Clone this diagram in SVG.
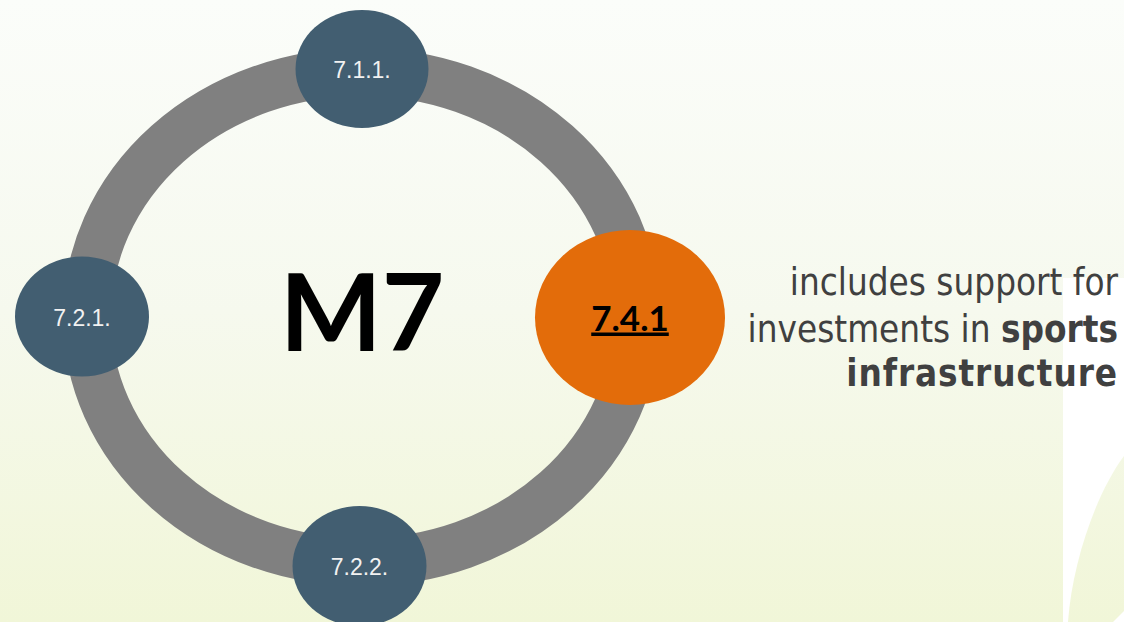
<svg xmlns="http://www.w3.org/2000/svg" width="1124" height="622" viewBox="0 0 1124 622">
  <defs>
    <linearGradient id="bg" gradientUnits="userSpaceOnUse" x1="0" y1="0" x2="0" y2="622">
      <stop offset="0" stop-color="#fbfdfa"/>
      <stop offset="0.5" stop-color="#f6f9ee"/>
      <stop offset="1" stop-color="#f1f6d8"/>
    </linearGradient>
    <style>
      .ring { fill: none; stroke: #808080; stroke-width: 48; }
      .node { fill: #425e71; }
      .hot { fill: #e36c0a; }
      .lbl { font-family: "Liberation Sans", Arial, sans-serif; font-size: 23px; fill: #f2f2f2; text-anchor: middle; }
      .big { font-family: Lato, "Open Sans", sans-serif; font-weight: bold; fill: #000; text-anchor: middle; }
      .desc { font-family: "DejaVu Sans Condensed", "DejaVu Sans", sans-serif; font-stretch: condensed; font-size: 36.5px; fill: #404040; text-anchor: end; }
      .b { font-weight: bold; }
      .wide { letter-spacing: 0.9px; }
    </style>
  </defs>
  <rect x="0" y="0" width="1124" height="622" fill="url(#bg)"/>
  <rect x="1063" y="278" width="61" height="344" fill="#ffffff"/>
  <path d="M1124,456 C1095,495 1072,565 1068,622 L1113,622 L1124,611 Z" fill="url(#bg)"/>

  <g id="connectors">
    <ellipse class="ring" cx="362" cy="317" rx="275" ry="245"/>
  </g>

  <g id="center">
    <text class="big" x="362" y="351" font-size="108">M7</text>
  </g>

  <g id="node-711">
    <ellipse class="node" cx="362" cy="69" rx="66.5" ry="59"/>
    <text class="lbl" x="362" y="78">7.1.1.</text>
  </g>
  <g id="node-721">
    <ellipse class="node" cx="82" cy="316.5" rx="67" ry="60"/>
    <text class="lbl" x="82" y="325.5">7.2.1.</text>
  </g>
  <g id="node-722">
    <ellipse class="node" cx="359.5" cy="566" rx="67" ry="60"/>
    <text class="lbl" x="359.5" y="575">7.2.2.</text>
  </g>
  <g id="node-741">
    <ellipse class="hot" cx="630" cy="317.5" rx="95" ry="87.5"/>
    <text class="big" x="630" y="330.5" font-size="35" text-decoration="underline">7.4.1</text>
  </g>

  <g id="description">
    <text class="desc" x="1118" y="295">includes support for</text>
    <text class="desc" x="1118" y="341.5">investments in <tspan class="b">sports</tspan></text>
    <text class="desc b wide" x="1118" y="386">infrastructure</text>
  </g>
</svg>
